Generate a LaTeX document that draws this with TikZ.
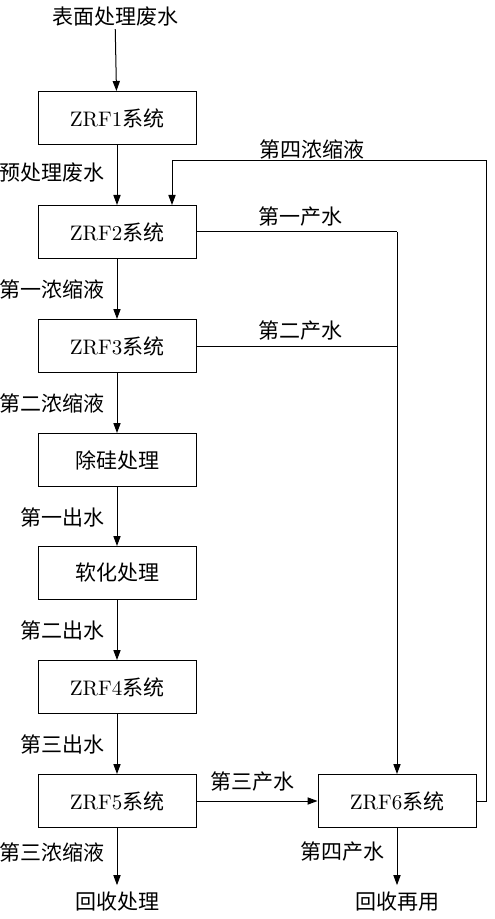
\documentclass[tikz,border=0pt]{standalone}
\usepackage{fontspec}
\newfontfamily\cjk{Noto Sans CJK SC}
\usetikzlibrary{arrows.meta}

\begin{document}
\begin{tikzpicture}[x=0.5pt, y=-0.5pt, line width=0.5pt,
  every node/.style={font=\cjk\fontsize{10.5}{12}\selectfont},
  box/.style={draw, minimum width=79pt, minimum height=26.5pt},
  arr/.style={-{Triangle[length=5pt,width=3.6pt]}}]
\useasboundingbox (0,0) rectangle (494,919);
% main column
\node[inner sep=1pt] (src) at (115,17) {表面处理废水};
\node[box] (f1) at (117,118) {{\rmfamily ZRF1}系统};
\node[box] (f2) at (117,232) {{\rmfamily ZRF2}系统};
\node[box] (f3) at (117,346) {{\rmfamily ZRF3}系统};
\node[box] (si) at (117,460) {除硅处理};
\node[box] (soft) at (117,573) {软化处理};
\node[box] (f4) at (117,687) {{\rmfamily ZRF4}系统};
\node[box] (f5) at (117,801) {{\rmfamily ZRF5}系统};
\node[box] (f6) at (397,801) {{\rmfamily ZRF6}系统};
\node (rec) at (117,902) {回收处理};
\node (reuse) at (397,902) {回收再用};
\draw[arr] (src) -- (f1);
\draw[arr] (f1) -- (f2);
\draw[arr] (f2) -- (f3);
\draw[arr] (f3) -- (si);
\draw[arr] (si) -- (soft);
\draw[arr] (soft) -- (f4);
\draw[arr] (f4) -- (f5);
\draw[arr] (f5) -- (rec);
\draw[arr] (f6) -- (reuse);
\draw[arr] (f5) -- (f6);
% labels on the column
\node[anchor=east] (l1) at (112,173) {预处理废水};
\node[anchor=east] (l2) at (112,289) {第一浓缩液};
\node[anchor=east] (l3) at (112,403) {第二浓缩液};
\node[anchor=east] (l4) at (112,517) {第一出水};
\node[anchor=east] (l5) at (112,630) {第二出水};
\node[anchor=east] (l6) at (112,744) {第三出水};
\node[anchor=east] (l7) at (112,852) {第三浓缩液};
\node[anchor=east] (l8) at (392,852) {第四产水};
% product water
\coordinate (jn) at (397,232);
\draw (f2.east) -- (jn);
\draw (f3.east) -- (f3.east -| jn);
\draw[arr] (jn) -- (f6.north);
\node (p1) at (300,217) {第一产水};
\node (p2) at (300,331) {第二产水};
\node[anchor=south] (p3) at (252,798) {第三产水};
% return of the fourth concentrate
\coordinate (fb) at (486,161);
\coordinate (fbin) at (172,161);
\draw[arr] (f6.east) -| (fb) -- (fbin) -- (fbin |- f2.north);
\node (c4) at (312,149) {第四浓缩液};
\end{tikzpicture}
\end{document}
